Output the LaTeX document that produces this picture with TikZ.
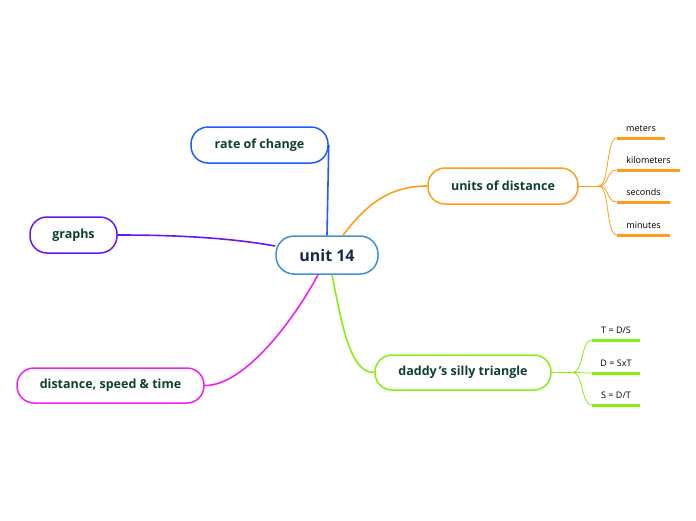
\documentclass[tikz,border=0pt]{standalone}
\usepackage{fontspec}
\setmainfont{Open Sans}
\usepackage{tikz}
\usetikzlibrary{positioning,calc}
\definecolor{cHub}{HTML}{3E91D1}
\definecolor{cHubTxt}{HTML}{172A4B}
\definecolor{cTxt}{HTML}{0F4032}
\definecolor{cRate}{HTML}{1E5CFF}
\definecolor{cUnits}{HTML}{FF9D1A}
\definecolor{cGraph}{HTML}{6A16F0}
\definecolor{cDst}{HTML}{EE22EE}
\definecolor{cTri}{HTML}{88EE14}
\tikzset{
  hub/.style    = {rectangle, rounded corners=18pt, draw=cHub, line width=1.5pt,
                   fill=white, text=cHubTxt, font=\fontsize{16}{18}\selectfont\bfseries,
                   minimum height=38pt, minimum width=102pt, inner sep=0pt},
  topic/.style  = {rectangle, rounded corners=17pt, line width=1.5pt, fill=white,
                   text=cTxt, font=\fontsize{12.5}{14}\selectfont\bfseries,
                   minimum height=36pt, inner sep=0pt},
  leaf/.style   = {anchor=south, font=\fontsize{9}{10}\selectfont, text=black,
                   inner xsep=0pt, inner ysep=6pt, minimum width=48pt},
  uline/.style  = {line width=3pt},
  br/.style     = {line width=1.6pt},
  tw/.style     = {line width=0.8pt},
}
\begin{document}
\begin{tikzpicture}[x=1pt, y=-1pt]
  \useasboundingbox (0,0) rectangle (696,520);

  \node[hub] (unit) at (327,255) {unit 14};

  \node[topic, draw=cRate,  minimum width=137pt] (rate)  at (259.5,145) {\raisebox{-1.5pt}{rate of change}};
  \node[topic, draw=cUnits, minimum width=150pt] (units) at (503,186)   {\raisebox{-1.5pt}{units of distance}};
  \node[topic, draw=cGraph, minimum width=87pt]  (graph) at (73.5,235)  {\raisebox{-1.5pt}{graphs}};
  \node[topic, draw=cDst,   minimum width=187pt, minimum height=35pt] (dst) at (110.5,385.5) {\raisebox{-1.5pt}{distance, speed \& time}};
  \node[topic, draw=cTri,   minimum width=176pt, minimum height=35pt] (tri) at (463,372.5) {\raisebox{-1.5pt}{daddy\,{\char"27}s silly triangle}};

  % units of distance
  \node[leaf] (met) at (641,138)   {meters};
  \node[leaf, minimum width=63pt] (kil) at (648.5,170) {kilometers};
  \node[leaf, minimum width=53pt] (sec) at (643.5,202) {seconds};
  \node[leaf, minimum width=53pt] (min) at (643.5,235) {minutes};

  % daddy's silly triangle
  \node[leaf] (tds) at (616,340) {T = D/S};
  \node[leaf] (dsx) at (616,373) {D = SxT};
  \node[leaf] (sdt) at (616,405) {S = D/T};

  \coordinate (ufork) at ([xshift=20pt]units.east);
  \coordinate (tfork) at ([xshift=21pt]tri.east);

  % branches from the hub
  \draw[br, cRate] (rate.east) -- (unit.north);
  \draw[br, cUnits] ([xshift=16pt]unit.north) .. controls (365,206) and (388,186) .. (units.west);
  \draw[br, cGraph] (graph.east) .. controls (180,235) and (230,238) .. ([yshift=9pt]unit.west);
  \draw[br, cDst] (dst.east) .. controls (245,386) and (295,318) .. ([xshift=-9pt]unit.south);
  \draw[br, cTri] ([xshift=5pt]unit.south) .. controls (342,325) and (350,373) .. (tri.west);

  \draw[tw, cUnits] (units.east) -- (ufork);
  \foreach \n in {met,kil,sec,min}
    \draw[tw, cUnits] (ufork) .. controls ([xshift=11pt]ufork) and ([xshift=-11pt]\n.south west) .. (\n.south west);
  \foreach \n in {met,kil,sec,min}
    \draw[uline, cUnits] (\n.south west) -- (\n.south east);

  \draw[tw, cTri] (tri.east) -- (tfork);
  \foreach \n in {tds,dsx,sdt}
    \draw[tw, cTri] (tfork) .. controls ([xshift=11pt]tfork) and ([xshift=-11pt]\n.south west) .. (\n.south west);
  \foreach \n in {tds,dsx,sdt}
    \draw[uline, cTri] (\n.south west) -- (\n.south east);
\end{tikzpicture}
\end{document}
